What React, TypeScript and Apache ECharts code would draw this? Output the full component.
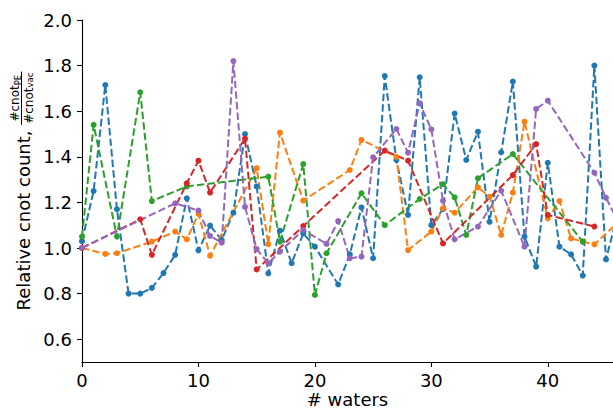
import React, { useEffect, useRef } from "react";
import * as echarts from "echarts";

const blueX = [0,1,2,3,4,5,6,7,8,9,10,11,12,13,14,15,16,17,18,19,20,22,23,24,25,26,27,28,29,30,31,32,33,34,35,36,37,38,39,40,41,42,43,44,45,46];
const blueY = [1.03,1.25,1.715,1.17,0.80,0.80,0.825,0.89,0.97,1.218,0.99,1.098,1.035,1.155,1.50,1.27,0.889,1.076,0.933,1.064,1.006,0.84,0.972,1.178,0.955,1.754,1.386,1.145,1.749,1.10,1.17,1.59,1.386,1.51,1.115,1.42,1.73,1.05,0.918,1.374,1.006,0.972,0.879,1.80,0.95,1.15];

const orangeX = [0,2,3,6,8,9,10,11,15,16,17,19,23,24,27,28,30,31,32,34,35,36,37,38,40,41,42,43,44,46];
const orangeY = [1.0,0.974,0.977,1.028,1.072,1.038,1.15,0.966,1.35,1.017,1.506,1.208,1.342,1.474,1.40,0.991,1.072,1.174,1.155,1.266,1.225,1.057,1.243,1.554,1.13,1.206,1.042,1.028,1.016,1.11];

const greenX = [0,1,3,5,6,9,16,17,19,20,21,24,26,29,31,32,33,34,37,43];
const greenY = [1.05,1.54,1.05,1.683,1.206,1.27,1.313,1.028,1.368,0.794,0.977,1.24,1.10,1.215,1.28,1.222,1.057,1.306,1.412,1.028];

const redX = [0,5,6,9,10,11,14,15,19,26,28,31,37,39,40,44];
const redY = [1.0,1.126,0.97,1.284,1.383,1.243,1.48,0.906,1.096,1.427,1.383,1.02,1.32,1.456,1.145,1.094];

const purpleX = [0,8,10,11,12,13,14,15,16,17,19,21,22,23,24,25,27,28,29,30,31,32,34,36,38,39,40,44,45,46];
const purpleY = [1.0,1.196,1.164,1.053,1.023,1.82,1.18,0.995,0.933,0.984,1.079,1.018,1.118,0.955,0.962,1.398,1.522,1.418,1.635,1.52,1.207,1.038,1.094,1.251,1.006,1.61,1.646,1.33,1.22,1.12];

const xTicks = [0, 10, 20, 30, 40];
const yTicks = [0.6, 0.8, 1.0, 1.2, 1.4, 1.6, 1.8, 2.0];
const xTitle = "# waters";
const yTitleMain = "Relative cnot count, ";
const fracBase = "#cnot";
const numSub = "PE";
const denSub = "vac";

const FONT = '"DejaVu Sans", sans-serif';

export default function App() {
  const ref = useRef<HTMLDivElement>(null);
  useEffect(() => {
    document.body.style.margin = "0";
    const chart = echarts.init(ref.current!, null, { renderer: "svg" });
    const cv = document.createElement("canvas").getContext("2d")!;
    const w = (t: string, s: number) => {
      cv.font = `${s}px "DejaVu Sans"`;
      return cv.measureText(t).width;
    };
    const mainSize = 18;
    const fSize = 12;
    const sSize = 8.5;
    const W = w(yTitleMain, mainSize);
    const baseW = w(fracBase, fSize);
    const nW = baseW + w(numSub, sSize);
    const dW = baseW + w(denSub, sSize);
    const fW = Math.max(nW, dW) + 2;
    const L = W + fW;
    const y0 = 191 + L / 2;
    const fx = W;
    const mk = (name: string, xs: number[], ys: number[], color: string) => ({
      type: "line",
      name,
      data: xs.map((x, i) => [x, ys[i]]),
      symbol: "circle",
      symbolSize: 6,
      showSymbol: true,
      itemStyle: { color },
      lineStyle: { color, width: 2, type: [7.4, 3.2] },
      clip: true,
    });
    const txt = (text: string, x: number, y: number, size: number, va: string) => ({
      type: "text",
      x,
      y,
      style: {
        text,
        fill: "#000",
        font: `${size}px ${FONT}`,
        fontSize: size,
        fontFamily: FONT,
        align: "left",
        textAlign: "left",
        verticalAlign: va,
        textVerticalAlign: va,
      },
    });
    chart.setOption({
      animation: false,
      grid: { left: 82, right: 0, top: 20, bottom: 47, containLabel: false, outerBoundsMode: "none" },
      xAxis: {
        type: "value",
        min: 0,
        max: 45.6,
        name: xTitle,
        nameLocation: "middle",
        nameGap: 28,
        nameMoveOverlap: false,
        nameTextStyle: { color: "#000", fontSize: 18, lineHeight: 18, fontFamily: FONT },
        axisLine: { show: true, lineStyle: { color: "#000", width: 1.1 } },
        axisTick: { show: true, length: 5, lineStyle: { color: "#000", width: 1.1 }, customValues: xTicks },
        axisLabel: { color: "#000", fontSize: 18, lineHeight: 18, fontFamily: FONT, margin: 9, customValues: xTicks, formatter: (v: number) => String(v) },
        splitLine: { show: false },
      },
      yAxis: {
        type: "value",
        min: 0.5,
        max: 2.0,
        axisLine: { show: true, lineStyle: { color: "#000", width: 1.1 } },
        axisTick: { show: true, length: 5, lineStyle: { color: "#000", width: 1.1 }, customValues: yTicks },
        axisLabel: { color: "#000", fontSize: 18, fontFamily: FONT, margin: 10, customValues: yTicks, formatter: (v: number) => v.toFixed(1) },
        splitLine: { show: false },
      },
      series: [
        mk("blue", blueX, blueY, "#1f77b4"),
        mk("orange", orangeX, orangeY, "#ff7f0e"),
        mk("green", greenX, greenY, "#2ca02c"),
        mk("red", redX, redY, "#d62728"),
        mk("purple", purpleX, purpleY, "#9467bd"),
      ],
      graphic: [
        {
          type: "group",
          x: 23,
          y: y0,
          rotation: Math.PI / 2,
          children: [
            txt(yTitleMain, 0, 0, mainSize, "middle"),
            {
              type: "line",
              shape: { x1: fx, y1: -1.5, x2: fx + fW, y2: -1.5 },
              style: { stroke: "#000", lineWidth: 1 },
            },
            txt(fracBase, fx + (fW - nW) / 2, -2.5, fSize, "bottom"),
            txt(numSub, fx + (fW - nW) / 2 + baseW, -0.5, sSize, "bottom"),
            txt(fracBase, fx + (fW - dW) / 2, -0.5, fSize, "top"),
            txt(denSub, fx + (fW - dW) / 2 + baseW, 2.5, sSize, "top"),
          ],
        },
      ],
    });
    return () => chart.dispose();
  }, []);
  return <div ref={ref} style={{ width: 613, height: 409 }} />;
}
